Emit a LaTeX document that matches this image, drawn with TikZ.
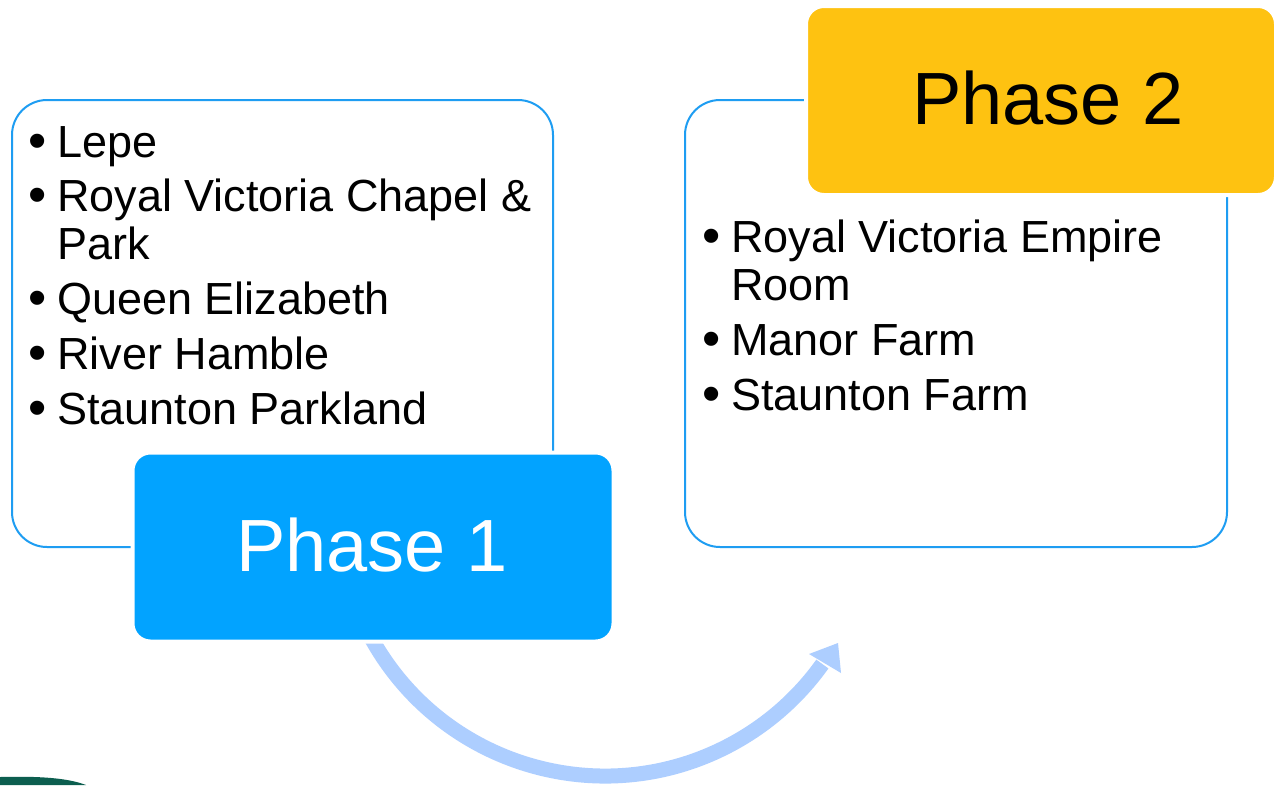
\documentclass[tikz,border=0pt]{standalone}
\usepackage{fontspec}
\setmainfont{Liberation Sans}
\usetikzlibrary{calc}
\definecolor{outlineblue}{HTML}{1E9DF2}
\definecolor{phaseoneblue}{HTML}{02A3FF}
\definecolor{phasetwoyellow}{HTML}{FEC211}
\definecolor{arrowblue}{HTML}{ADCEFF}
\definecolor{cornergreen}{HTML}{0C5E4F}
\begin{document}
\begin{tikzpicture}[x=1pt,y=-1pt,
  outlinebox/.style={draw=outlineblue, line width=2pt, rounded corners=35pt, inner sep=0pt},
  phasebox/.style={draw=white, line width=4pt, rounded corners=18pt, inner sep=0pt},
  itemtext/.style={anchor=base west, inner sep=0pt, font=\fontsize{45}{54}\selectfont},
  bulletmark/.style={anchor=base west, inner sep=0pt, font=\fontsize{52}{60}\selectfont},
  phaselabel/.style={anchor=base, inner sep=0pt, font=\fontsize{74}{88}\selectfont},
  flowarrow/.style={draw=arrowblue, line width=15pt}
]
\useasboundingbox (0,0) rectangle (1274,785);
\fill[white] (0,0) rectangle (1274,785);

% corner decoration
\fill[cornergreen] (0,785) -- (0,777) .. controls (40,776) and (68,778) .. (86,785) -- cycle;

% curved arrow
\coordinate (arccentre) at (605,509);
\draw[flowarrow] (arccentre) ++(151:267) coordinate (arcstart) arc[start angle=151, end angle=35.5, radius=267] coordinate (arcend);
\coordinate (tip) at (838,643);
\coordinate (wingA) at (809,654);
\coordinate (wingB) at (841,673);
\fill[arrowblue] (tip) -- (wingA) -- (wingB) -- cycle;

% outline boxes
\node[outlinebox, minimum width=541pt, minimum height=447pt] (leftbox) at (282.5,323.5) {};
\node[outlinebox, minimum width=542pt, minimum height=447pt] (rightbox) at (956,323.5) {};

% phase boxes
\node[phasebox, fill=phaseoneblue, minimum width=481pt, minimum height=189pt] (phaseone) at (373,547) {};
\node[phasebox, fill=phasetwoyellow, minimum width=470pt, minimum height=189pt] (phasetwo) at (1041,100.5) {};

\node[phaselabel, text=white] (phaseonetext) at (372,571) {Phase 1};
\node[phaselabel, text=black] (phasetwotext) at (1048,124) {Phase 2};

% left list
\node[bulletmark] (lb1) at (28,158) {•};
\node[itemtext] (l1) at (57,157) {Lepe};
\node[bulletmark] (lb2) at (28,212) {•};
\node[itemtext] (l2a) at (57,211) {Royal Victoria Chapel \&};
\node[itemtext] (l2b) at (57,259) {Park};
\node[bulletmark] (lb3) at (28,315) {•};
\node[itemtext] (l3) at (57,314) {Queen Elizabeth};
\node[bulletmark] (lb4) at (28,370) {•};
\node[itemtext] (l4) at (57,369) {River Hamble};
\node[bulletmark] (lb5) at (28,425) {•};
\node[itemtext] (l5) at (57,424) {Staunton Parkland};

% right list
\node[bulletmark] (rb1) at (702,253) {•};
\node[itemtext] (r1a) at (731,252) {Royal Victoria Empire};
\node[itemtext] (r1b) at (731,300) {Room};
\node[bulletmark] (rb2) at (702,356) {•};
\node[itemtext] (r2) at (731,355) {Manor Farm};
\node[bulletmark] (rb3) at (702,411) {•};
\node[itemtext] (r3) at (731,410) {Staunton Farm};
\end{tikzpicture}
\end{document}
